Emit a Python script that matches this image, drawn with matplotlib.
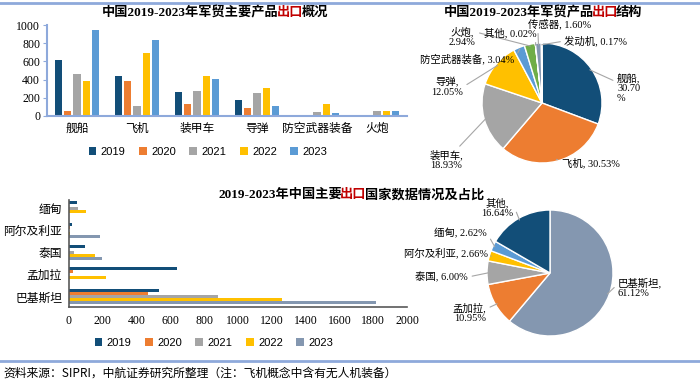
import matplotlib as mpl
mpl.use('Agg')
import matplotlib.pyplot as plt
import numpy as np

plt.rcParams['font.family'] = ['Liberation Serif', 'Noto Sans CJK SC']
plt.rcParams['axes.unicode_minus'] = False

W, H = 700, 385

years = ['2019', '2020', '2021', '2022', '2023']

# top-left: main product exports
products = ['舰船', '飞机', '装甲车', '导弹', '防空武器装备', '火炮']
prod_values = [
    [620, 445, 265, 180, 0, 12],    # 2019
    [60, 380, 130, 90, 0, 5],       # 2020
    [460, 110, 270, 255, 45, 58],   # 2021
    [390, 690, 440, 305, 135, 58],  # 2022
    [940, 830, 405, 115, 35, 52],   # 2023
]

# top-right: product structure
struct_labels = ['舰船', '飞机', '装甲车', '导弹', '防空武器装备', '火炮', '其他', '传感器', '发动机']
struct_pct = [30.70, 30.53, 18.93, 12.05, 3.04, 2.94, 0.02, 1.60, 0.17]

# bottom-left: main importing countries
countries = ['巴基斯坦', '孟加拉', '泰国', '阿尔及利亚', '缅甸']
country_values = [
    [530, 640, 95, 20, 48],      # 2019
    [465, 24, 0, 3, 0],          # 2020
    [882, 0, 28, 0, 55],         # 2021
    [1260, 218, 156, 6, 102],    # 2022
    [1818, 0, 196, 186, 0],      # 2023
]

# bottom-right: country share
share_labels = ['巴基斯坦', '孟加拉', '泰国', '阿尔及利亚', '缅甸', '其他']
share_pct = [61.12, 10.95, 6.00, 2.66, 2.62, 16.64]

NAVY = '#124E78'
ORANGE = '#ED7D31'
GRAY = '#A5A5A5'
YELLOW = '#FFC000'
LBLUE = '#5B9BD5'
GREEN = '#70AD47'
SLATE = '#8497B0'
LINE = '#8EA9DB'

fig = plt.figure(figsize=(W / 100, H / 100), dpi=100)


def px_axes(x0, y0, x1, y1):
    return fig.add_axes([x0 / W, 1 - y1 / H, (x1 - x0) / W, (y1 - y0) / H])


def fx(px):
    return px / W


def fy(py):
    return 1 - py / H


def mixed_title(cx, cy, parts, size=9.5):
    r = fig.canvas.get_renderer()
    texts, widths = [], []
    for s, c in parts:
        t = fig.text(0, fy(cy), s, color=c, fontsize=size, fontweight='bold',
                     va='center', ha='left')
        widths.append(t.get_window_extent(renderer=r).width - 2)
        texts.append(t)
    x = cx - sum(widths) / 2
    for t, w in zip(texts, widths):
        t.set_x(fx(x))
        x += w


# frame lines
fig.add_artist(plt.Line2D([0, 1], [fy(3), fy(3)], color=LINE, lw=2))
fig.add_artist(plt.Line2D([0, 1], [fy(361), fy(361)], color=LINE, lw=2))

# ---- top-left grouped bars
ax1 = px_axes(47, 25, 407, 116)
colors1 = [NAVY, ORANGE, GRAY, YELLOW, LBLUE]
x = np.arange(len(products))
step, bw = 0.155, 0.125
for i, y in enumerate(years):
    ax1.bar(x + (i - 2) * step, prod_values[i], width=bw, color=colors1[i], label=y)
ax1.set_xlim(-0.5, len(products) - 0.5)
ax1.set_ylim(0, 1000)
ax1.set_yticks(range(0, 1001, 200))
ax1.set_xticks(x)
ax1.set_xticklabels(products, fontsize=8.5)
ax1.tick_params(axis='y', labelsize=8.5, length=3, color=LINE, pad=2)
ax1.tick_params(axis='x', length=0, pad=5)
for s in ['top', 'right']:
    ax1.spines[s].set_visible(False)
for s in ['left', 'bottom']:
    ax1.spines[s].set_color(LINE)
    ax1.spines[s].set_linewidth(1.5)
ax1.legend(loc='center', bbox_to_anchor=(fx(208), fy(152)), bbox_transform=fig.transFigure,
           ncol=5, frameon=False, handlelength=0.7, handleheight=0.7,
           handletextpad=0.4, columnspacing=1.2, prop={'family': 'Liberation Sans', 'size': 8})
mixed_title(214, 13, [('中国2019-2023年军贸主要产品', 'black'), ('出口', '#C00000'), ('概况', 'black')])


def pie_axes(x0, y0, x1, y1):
    ax = px_axes(x0, y0, x1, y1)
    ax.set_axis_off()
    return ax


def set_pie_limits(ax, x0, y0, x1, y1, cx, cy, r):
    ax.set_aspect('auto')
    ax.set_xlim((x0 - cx) / r, (x1 - cx) / r)
    ax.set_ylim((cy - y1) / r, (cy - y0) / r)


def label_pie(ax, wedges, texts, pos, cx, cy, r, size=7.5):
    for w, s, (tx, ty, ha, rp) in zip(wedges, texts, pos):
        ang = np.deg2rad((w.theta1 + w.theta2) / 2)
        px, py = 0.97 * np.cos(ang), 0.97 * np.sin(ang)
        ax.annotate(s, xy=(px, py), xytext=((tx - cx) / r, (cy - ty) / r),
                    ha=ha, va='center', fontsize=size, linespacing=1.05,
                    arrowprops=dict(arrowstyle='-', color='#A6A6A6', lw=0.8,
                                    shrinkA=1, shrinkB=0, relpos=rp))


# ---- top-right pie
cx1, cy1, r1 = 542, 103, 60
box2 = (405, 20, 700, 190)
ax2 = pie_axes(*box2)
colors2 = [NAVY, ORANGE, GRAY, YELLOW, LBLUE, GREEN, '#264478', SLATE, '#7F7F7F']
w2, _ = ax2.pie(struct_pct, colors=colors2, startangle=90, counterclock=False,
                radius=1, wedgeprops=dict(edgecolor='white', linewidth=1))
set_pie_limits(ax2, *box2, cx1, cy1, r1)
pos2 = [(617, 88, 'left', (0, 0.7)), (562, 163, 'left', (0, 0.7)),
        (446, 160, 'center', (0.8, 1)), (447, 87, 'center', (1, 0.5)),
        (467, 59, 'center', (1, 0.5)), (462, 37, 'center', (1, 0.75)),
        (510, 33, 'center', (1, 0.5)), (560, 24, 'center', (0.15, 0)),
        (596, 41, 'center', (0, 0.5))]
txt2 = ['舰船,\n30.70\n%', '飞机, 30.53%', '装甲车,\n18.93%', '导弹,\n12.05%',
        '防空武器装备, 3.04%', '火炮,\n2.94%', '其他, 0.02%', '传感器, 1.60%', '发动机, 0.17%']
label_pie(ax2, w2, txt2, pos2, cx1, cy1, r1)
mixed_title(542, 13, [('中国2019-2023年军贸产品', 'black'), ('出口', '#C00000'), ('结构', 'black')])

# ---- bottom-left horizontal bars
ax3 = px_axes(69, 200, 407, 307)
colors3 = [NAVY, ORANGE, GRAY, YELLOW, SLATE]
yy = np.arange(len(countries))
bh = 0.135
for i, y in enumerate(years):
    ax3.barh(yy + (2 - i) * bh, country_values[i], height=bh, color=colors3[i], label=y)
ax3.set_ylim(-0.45, len(countries) - 1 + 0.36)
ax3.set_xlim(0, 2000)
ax3.set_xticks(range(0, 2001, 200))
ax3.set_yticks(yy)
ax3.set_yticklabels(countries, fontsize=8.5)
ax3.tick_params(axis='x', labelsize=8.5, length=0, pad=6)
ax3.tick_params(axis='y', length=0, pad=5)
for s in ['top', 'right']:
    ax3.spines[s].set_visible(False)
for s in ['left', 'bottom']:
    ax3.spines[s].set_color('#595959')
    ax3.spines[s].set_linewidth(1.2)
ax3.legend(loc='center', bbox_to_anchor=(fx(214), fy(343)), bbox_transform=fig.transFigure,
           ncol=5, frameon=False, handlelength=0.7, handleheight=0.7,
           handletextpad=0.4, columnspacing=1.2, prop={'family': 'Liberation Sans', 'size': 8})

# ---- bottom-right pie
cx2, cy2, r2 = 550, 273, 63
box4 = (405, 200, 700, 345)
ax4 = pie_axes(*box4)
colors4 = [SLATE, ORANGE, GRAY, YELLOW, LBLUE, NAVY]
w4, _ = ax4.pie(share_pct, colors=colors4, startangle=90, counterclock=False,
                radius=1, wedgeprops=dict(edgecolor='white', linewidth=1))
set_pie_limits(ax4, *box4, cx2, cy2, r2)
pos4 = [(618, 288, 'left', (0, 0.7)), (486, 313, 'right', (1, 0.7)),
        (468, 277, 'right', (1, 0.5)), (488, 253, 'right', (1, 0.5)),
        (487, 233, 'right', (1, 0.5)), (497, 208, 'center', (1, 0.7))]
txt4 = ['巴基斯坦,\n61.12%', '孟加拉,\n10.95%', '泰国, 6.00%', '阿尔及利亚, 2.66%',
        '缅甸, 2.62%', '其他,\n16.64%']
label_pie(ax4, w4, txt4, pos4, cx2, cy2, r2)

mixed_title(350, 195, [('2019-2023年中国主要', 'black'), ('出口', '#C00000'),
                       ('国家数据情况及占比', 'black')])

fig.text(fx(3), fy(373), '资料来源：SIPRI，中航证券研究所整理（注：飞机概念中含有无人机装备）',
         fontsize=8.5, va='center', ha='left', family=['Noto Sans CJK SC', 'DejaVu Sans'])

fig.savefig('out.png', dpi=100)
